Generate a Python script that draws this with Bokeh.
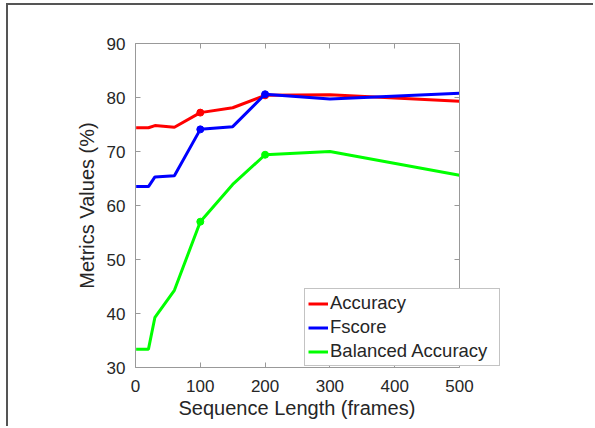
import math
from bokeh.plotting import figure
from bokeh.models import Range1d, LinearAxis, FixedTicker, Span, Title
from bokeh.embed import file_html
from bokeh.resources import INLINE

# Data
seq_len = [1, 20, 30, 60, 100, 150, 200, 300, 500]
accuracy = [74.4, 74.4, 74.8, 74.5, 77.2, 78.1, 80.4, 80.5, 79.3]
fscore = [63.5, 63.5, 65.3, 65.5, 74.1, 74.6, 80.6, 79.7, 80.8]
bal_acc = [33.4, 33.4, 39.3, 44.3, 57.0, 63.9, 69.4, 70.0, 65.6]
marker_idx = [4, 6]
x_ticks = [0, 100, 200, 300, 400, 500]
y_ticks = [30, 40, 50, 60, 70, 80, 90]
x_lo, x_hi = 0, 500
y_lo, y_hi = 30, 90

FONT = "Liberation Sans"
AX = "#999999"
TXT = "#262626"

W, H = 587, 423
BOX_W = 324          # pixel width of the axes box
FRAME_W = 370        # frame is wider so the legend can overhang the box
x_end = x_lo + (x_hi - x_lo) * FRAME_W / BOX_W

p = figure(width=W, height=H, output_backend="svg", toolbar_location=None,
           x_range=Range1d(x_lo, x_end), y_range=Range1d(y_lo, y_hi),
           min_border_left=127, min_border_top=38,
           min_border_right=W - 127 - FRAME_W, min_border_bottom=H - 38 - 324)
p.styles = {"margin-left": "6px", "margin-top": "3px",
            "border-left": "2px solid #555555", "border-top": "2px solid #555555"}
p.grid.visible = False
p.outline_line_color = None

# right edge of the axes box, with inward ticks
p.add_layout(Span(location=x_hi, dimension="height", line_color=AX, line_width=1))
p.ray(x=[x_hi] * len(y_ticks), y=y_ticks, length=5, length_units="screen",
      angle=math.pi, line_color=AX, line_width=1)

series = [(accuracy, "#ff0000", "Accuracy"),
          (fscore, "#0000ff", "Fscore"),
          (bal_acc, "#00ff00", "Balanced Accuracy")]
for ys, col, lab in series:
    p.line(seq_len, ys, line_color=col, line_width=3, legend_label=lab)
    p.scatter([seq_len[i] for i in marker_idx], [ys[i] for i in marker_idx],
              size=7, fill_color=col, line_color=col)

for ax in [p.xaxis[0], p.yaxis[0]]:
    ax.axis_line_color = AX
    ax.major_tick_line_color = AX
    ax.major_tick_in = 5
    ax.major_tick_out = 0
    ax.minor_tick_line_color = None
    ax.major_label_text_font = FONT
    ax.major_label_text_font_size = "17px"
    ax.major_label_text_color = TXT
    ax.axis_label_text_font = FONT
    ax.axis_label_text_font_size = "20px"
    ax.axis_label_text_font_style = "normal"
    ax.axis_label_text_color = TXT
p.xaxis[0].ticker = FixedTicker(ticks=x_ticks)
p.xaxis[0].bounds = (x_lo, x_hi)
p.yaxis[0].ticker = FixedTicker(ticks=y_ticks)
p.yaxis[0].axis_label = "Metrics Values (%)"
p.xaxis[0].major_label_standoff = 12
p.yaxis[0].major_label_standoff = 10
p.yaxis[0].axis_label_standoff = 6

xlabel = Title(text="Sequence Length (frames)", align="left", offset=43,
               text_font=FONT, text_font_size="20px", text_font_style="normal",
               text_color=TXT, standoff=0)
p.add_layout(xlabel, "below")

top = LinearAxis(ticker=FixedTicker(ticks=x_ticks), bounds=(x_lo, x_hi))
top.axis_line_color = AX
top.major_tick_line_color = AX
top.major_tick_in = 5
top.major_tick_out = 0
top.minor_tick_line_color = None
top.major_label_text_color = None
top.major_label_text_font_size = "1px"
top.major_label_standoff = 0
p.add_layout(top, "above")

lg = p.legend[0]
lg.location = (169, 1)
lg.label_text_font = FONT
lg.label_text_font_size = "18.5px"
lg.label_text_color = TXT
lg.border_line_color = "#888888"
lg.border_line_width = 1
lg.background_fill_color = "white"
lg.background_fill_alpha = 1
lg.padding = 3
lg.margin = 0
lg.spacing = 2
lg.label_height = 21
lg.glyph_height = 21
lg.glyph_width = 20
lg.label_standoff = 2
lg.label_width = 166

open("out.html", "w").write(file_html(p, INLINE))
